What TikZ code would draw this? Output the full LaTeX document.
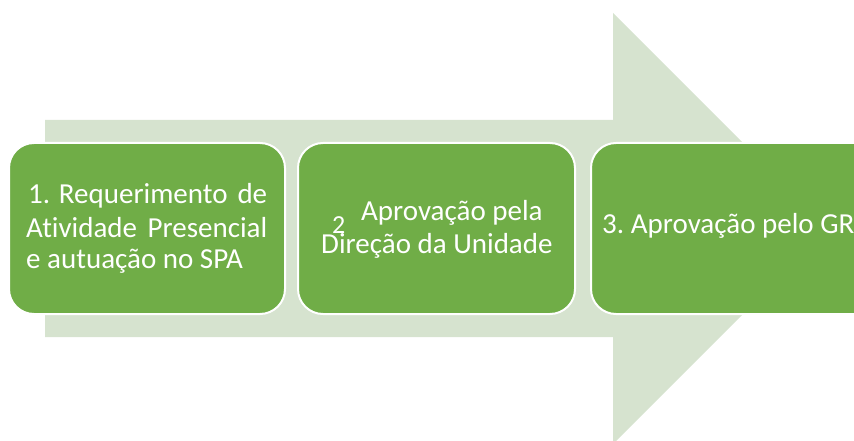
\documentclass[tikz,border=0pt]{standalone}
\usepackage{fontspec}
\setmainfont{Carlito}[Ligatures=NoCommon]
\definecolor{boxgreen}{RGB}{112,173,71}
\definecolor{arrowgreen}{RGB}{214,227,207}
\begin{document}
\begin{tikzpicture}[x=1pt,y=-1pt,
  stepbox/.style={draw=white, line width=2pt, fill=boxgreen, rounded corners=25pt, inner sep=0pt, minimum height=171pt},
  steptext/.style={text=white, inner sep=0pt, anchor=base west, font=\fontsize{29}{33}\selectfont}]
\useasboundingbox (0,0) rectangle (854,441);
\clip (0,0) rectangle (854,441);
\fill[arrowgreen] (45,120) -- (613,120) -- (613,13) -- (828.5,228.5) -- (613,444) -- (613,337) -- (45,337) -- cycle;
\node[stepbox, minimum width=276pt] (b1) at (147,228.5) {};
\node[stepbox, minimum width=277pt] (b2) at (436.5,228.5) {};
\node[stepbox, minimum width=290pt] (b3) at (736,228.5) {};
% box 1 text
\node[steptext] (t1a) at (28,203) {\makebox[239pt][l]{1. Requerimento\hfill de}};
\node[steptext] (t1b) at (26,237) {\makebox[241pt][l]{Atividade\hfill Presencial}};
\node[steptext] (t1c) at (26,268) {e autuação no SPA};
% box 2 text
\node[steptext] (t2a) at (361,220) {Aprovação pela};
\node[steptext, font=\fontsize{26}{30}\selectfont] (t2n) at (332,233) {2};
\node[steptext] (t2b) at (321,253) {Direção da Unidade};
% box 3 text
\node[steptext] (t3) at (602,233) {3.\kern-2pt{} Aprovação pelo GR};
\end{tikzpicture}
\end{document}
